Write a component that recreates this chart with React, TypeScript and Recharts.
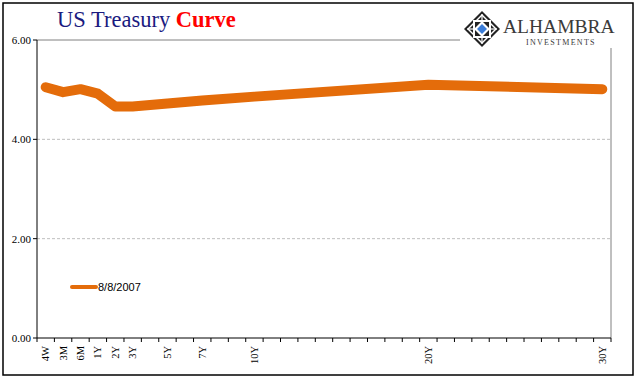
import { LineChart, Line, XAxis, YAxis, ReferenceLine } from "recharts";

// tenors on a year-like scale, 4W/3M/6M squeezed in before 1Y like the original
const TENORS = ["4W", "3M", "6M", "1Y", "2Y", "3Y", "5Y", "7Y", "10Y", "20Y", "30Y"];
const TENOR_POS = [-2, -1, 0, 1, 2, 3, 5, 7, 10, 20, 30];
const YIELDS_2007_08_08 = [5.05, 4.95, 5.01, 4.92, 4.66, 4.66, 4.72, 4.78, 4.86, 5.1, 5.01];
const Y_TICKS = [0, 2, 4, 6];
const SERIES_NAME = "8/8/2007";

const ORANGE = "#E46C0A";
const SERIF = "'Liberation Serif', 'Times New Roman', serif";
const SANS = "'Liberation Sans', Arial, sans-serif";

const data = TENOR_POS.map((pos, i) => ({ pos, y: YIELDS_2007_08_08[i] }));
const labelByPos: Record<number, string> = {};
TENOR_POS.forEach((p, i) => (labelByPos[p] = TENORS[i]));

// category boundaries (Excel draws tick marks between categories)
const BOUNDS: number[] = [];
for (let b = -2.5; b <= 30.5; b += 1) BOUNDS.push(b);

const TenorTick = (props: any) => {
  const { x, y, payload } = props;
  return (
    <text
      x={x}
      y={y}
      transform={`rotate(-90 ${x} ${y})`}
      textAnchor="end"
      dominantBaseline="central"
      fontSize={10.5}
      fontFamily={SERIF}
      fill="#000"
    >
      {labelByPos[payload.value]}
    </text>
  );
};

function Logo() {
  const cx = 482;
  const cy = 29;
  const d = (r: number) => `${cx},${cy - r} ${cx + r},${cy} ${cx},${cy + r} ${cx - r},${cy}`;
  return (
    <g>
      <rect x={460} y={8} width={172} height={40} fill="#fff" />
      <polygon points={d(18)} fill="#222" />
      <polygon points={d(15)} fill="#fff" />
      <polygon points={d(13)} fill="#222" />
      <rect x={cx - 9} y={cy - 9} width={18} height={18} fill="#fff" />
      <rect x={cx - 7} y={cy - 7} width={14} height={14} fill="#222" />
      <polygon points={d(8)} fill="#fff" />
      <line x1={cx - 15} y1={cy} x2={cx + 15} y2={cy} stroke="#fff" strokeWidth={1.2} />
      <line x1={cx} y1={cy - 15} x2={cx} y2={cy + 15} stroke="#fff" strokeWidth={1.2} />
      <polygon points={d(5)} fill="#3B7DD8" />
      <text x={503} y={33} fontSize={19.5} fontFamily={SERIF} fill="#3a3a3a">
        ALHAMBRA
      </text>
      <text x={526} y={45} fontSize={8} fontFamily={SERIF} fill="#3a3a3a" letterSpacing={1.3}>
        INVESTMENTS
      </text>
    </g>
  );
}

export default function App() {
  return (
    <div style={{ position: "absolute", left: 0, top: 0, width: 641, height: 381, background: "#fff" }}>
      <LineChart
        width={641}
        height={381}
        data={data}
        margin={{ top: 40, right: 30, bottom: 0, left: 0 }}
      >
        <XAxis
          xAxisId="bounds"
          type="number"
          dataKey="pos"
          domain={[-2.5, 30.5]}
          ticks={BOUNDS}
          tickFormatter={() => ""}
          tickSize={4}
          tickMargin={0}
          height={4}
          stroke="#000"
          allowDataOverflow
        />
        <XAxis
          xAxisId="lbl"
          type="number"
          dataKey="pos"
          domain={[-2.5, 30.5]}
          ticks={TENOR_POS}
          interval={0}
          tick={<TenorTick />}
          tickSize={0}
          tickMargin={4}
          axisLine={false}
          tickLine={false}
          height={39}
          allowDataOverflow
        />
        <YAxis
          type="number"
          domain={[0, 6]}
          ticks={Y_TICKS}
          width={37}
          tickSize={4}
          tickMargin={2}
          stroke="#000"
          tick={{ fill: "#000", fontSize: 11, fontFamily: SERIF }}
          tickFormatter={(v: number) => v.toFixed(2)}
        />
        {Y_TICKS.filter((t) => t > 0 && t < 6).map((t) => (
          <ReferenceLine key={t} xAxisId="lbl" y={t} stroke="#BFBFBF" strokeDasharray="3 2" />
        ))}
        <ReferenceLine xAxisId="lbl" y={6} stroke="#808080" />
        <ReferenceLine xAxisId="lbl" x={30.5} stroke="#808080" />
        <Line
          xAxisId="lbl"
          type="linear"
          dataKey="y"
          name={SERIES_NAME}
          stroke={ORANGE}
          strokeWidth={10}
          strokeLinecap="round"
          strokeLinejoin="round"
          dot={false}
          activeDot={false}
          isAnimationActive={false}
        />
      </LineChart>
      <svg
        width={641}
        height={381}
        style={{ position: "absolute", left: 0, top: 0, pointerEvents: "none" }}
      >
        <text x={57} y={27} fontSize={22.5} fontFamily={SERIF}>
          <tspan fill="#1A1A80">US Treasury </tspan>
          <tspan fill="#FF0000" fontWeight="bold">
            Curve
          </tspan>
        </text>
        <Logo />
        {/* legend */}
        <line x1={72} y1={287} x2={96} y2={287} stroke={ORANGE} strokeWidth={4} strokeLinecap="round" />
        <text x={98} y={291} fontSize={11} fontFamily={SANS} fill="#000">
          {SERIES_NAME}
        </text>
        <rect x={3} y={3} width={630} height={372} fill="none" stroke="#000" strokeWidth={1.5} />
      </svg>
    </div>
  );
}
